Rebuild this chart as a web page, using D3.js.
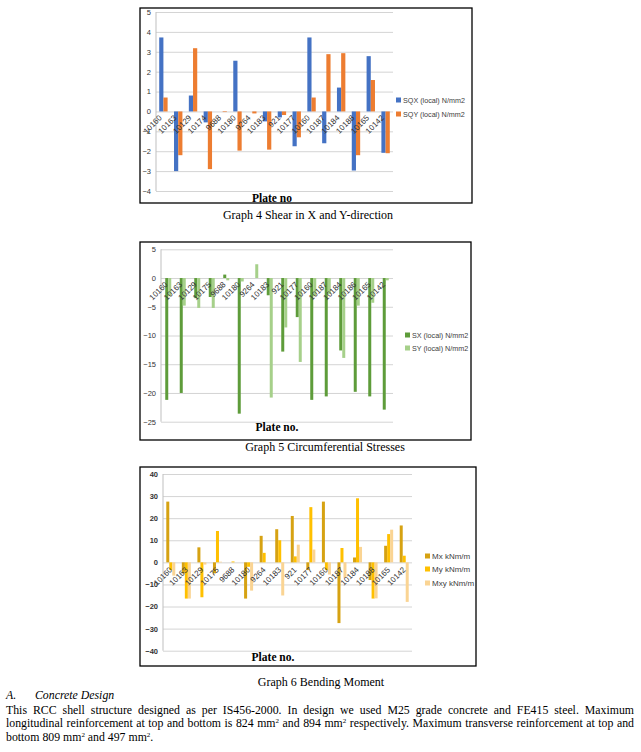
<!DOCTYPE html>
<html>
<head>
<meta charset="utf-8">
<script src="https://cdn.jsdelivr.net/npm/d3@7"></script>
<style>
  body { margin: 0; background: #fff; }
  #wrap { position: relative; width: 641px; height: 752px; overflow: hidden; }
  svg { position: absolute; left: 0; top: 0; }
  .para { position: absolute; left: 6px; width: 628px; font-family: "Liberation Serif", "Times New Roman", serif;
          font-size: 11.8px; line-height: 13px; white-space: nowrap; color: #000; }
  .just { text-align: justify; text-align-last: justify; white-space: normal; }
  sup { font-size: 7px; line-height: 0; vertical-align: 4px; }
</style>
</head>
<body>
<div id="wrap"></div>
<script>
// plate numbers along the x axis of each graph
var platesShear = ["10160", "10163", "10129", "10174", "9688", "10180", "9264", "10183", "921", "10177", "10160", "10187", "10184", "10188", "10165", "10142"];
var platesStress = ["10160", "10163", "10129", "10175", "9688", "10180", "9264", "10183", "921", "10177", "10160", "10187", "10184", "10186", "10165", "10142"];
var platesMoment = ["10160", "10163", "10129", "10175", "9688", "10180", "9264", "10183", "921", "10177", "10160", "10187", "10184", "10188", "10165", "10142"];

// graph 4 - shear
var sqx = [3.72, -3.0, 0.8, -0.55, 0, 2.55, 0, -0.5, -0.3, -1.75, 3.72, -1.6, 1.2, -2.97, 2.78, -2.08];
var sqy = [0.7, -2.2, 3.18, -2.9, -0.03, -1.97, -0.1, -1.92, -0.18, -1.3, 0.7, 2.88, 2.93, -2.2, 1.58, -2.1];

// graph 5 - circumferential stresses
var sx = [-21.2, -20, -3.5, -3.3, 0.6, -23.6, 0, -3, -12.8, -6.8, -21.2, -20.6, -12.6, -19.8, -20.6, -22.9];
var sy = [-3.1, -4.8, -5.2, -5.2, -0.4, -0.6, 2.4, -20.8, -8.6, -14.6, -3.1, -2.8, -13.9, -4.8, -4.3, -0.4];

// graph 6 - bending moment
var mx = [27.5, -5, 6.8, -5, 0, -16.4, 12, 15, 21, -3.5, 27.5, -27.5, 2.2, -8, 7.5, 16.7];
var my = [-3.5, -16.4, -15.8, 14.2, 0.4, -2, 4.3, 10, 2.7, 25, -3.5, 6.5, 29, -16.4, 12.8, 3];
var mxy = [-6, -16.4, -1, 0.3, 0, -12.8, 0, -15, 8, 5.8, -5.5, -7, 7, -16.3, 14.8, -17.9];

var ticksShear = d3.range(-4, 6, 1);
var ticksStress = d3.range(-25, 10, 5);
var ticksMoment = d3.range(-40, 50, 10);

var W = 641, H = 752;
var svg = d3.select("#wrap").append("svg").attr("width", W).attr("height", H);
svg.append("rect").attr("width", W).attr("height", H).attr("fill", "#fff");

var sans = "'Liberation Sans', Arial, sans-serif";
var serif = "'Liberation Serif', 'Times New Roman', serif";

function drawChart(cfg, idx) {
  var f = cfg.frame;
  var clipId = "clip" + idx;
  svg.append("clipPath").attr("id", clipId)
    .append("rect").attr("x", f[0]).attr("y", f[1]).attr("width", f[2] - f[0]).attr("height", f[3] - f[1]);

  var g = svg.append("g").attr("clip-path", "url(#" + clipId + ")");

  var x = d3.scaleBand().domain(d3.range(cfg.cats.length)).range([cfg.x0, cfg.x1]);
  var y = d3.scaleLinear().domain(cfg.domain).range(cfg.yRange);

  // gridlines + tick labels
  var yAxis = d3.axisLeft(y).tickValues(cfg.ticks).tickSize(-(cfg.x1 - cfg.x0)).tickPadding(5);
  var ax = g.append("g").attr("transform", "translate(" + cfg.x0 + ",0)").call(yAxis);
  ax.select(".domain").remove();
  ax.selectAll(".tick line").attr("stroke", "#d4d4d4").attr("stroke-width", 1);
  ax.selectAll(".tick text").attr("font-family", sans).attr("font-size", cfg.tickFont)
    .attr("font-weight", cfg.tickWeight || "normal").attr("fill", "#333");
  g.append("line").attr("x1", cfg.x0).attr("x2", cfg.x0)
    .attr("y1", y(cfg.domain[1])).attr("y2", y(cfg.domain[0])).attr("stroke", "#bfbfbf");

  // bars
  var n = cfg.series.length;
  var off = (x.bandwidth() - n * cfg.barW) / 2;
  cfg.series.forEach(function (s, si) {
    g.append("g").selectAll("rect").data(s.values).enter().append("rect")
      .attr("x", function (d, i) { return x(i) + off + si * cfg.barW; })
      .attr("width", cfg.barW)
      .attr("y", function (d) { return y(Math.max(0, d)); })
      .attr("height", function (d) { return Math.abs(y(d) - y(0)); })
      .attr("fill", s.color);
  });

  // category labels near zero line
  g.append("g").selectAll("text").data(cfg.cats).enter().append("text")
    .attr("transform", function (d, i) {
      return "translate(" + (x(i) + x.bandwidth() / 2 + cfg.labDx) + "," + (y(0) + cfg.labDy) + ") rotate(-45)";
    })
    .attr("text-anchor", "end").attr("dy", "0.35em")
    .attr("font-family", sans).attr("font-size", cfg.catFont).attr("fill", "#333")
    .text(function (d) { return d; });

  // legend
  cfg.series.forEach(function (s, si) {
    var ly = cfg.legendY[si];
    g.append("rect").attr("x", cfg.legendX).attr("y", ly - 2.5).attr("width", 5).attr("height", 5).attr("fill", s.color);
    g.append("text").attr("x", cfg.legendX + 7).attr("y", ly).attr("dy", "0.35em")
      .attr("font-family", sans).attr("font-size", cfg.legFont).attr("fill", "#404040").text(s.name);
  });

  // axis title
  g.append("text").attr("x", cfg.title[0]).attr("y", cfg.title[1]).attr("text-anchor", "middle")
    .attr("font-family", serif).attr("font-weight", "bold").attr("font-size", 11.5).text(cfg.titleText);

  // frame
  svg.append("rect").attr("x", f[0]).attr("y", f[1]).attr("width", f[2] - f[0]).attr("height", f[3] - f[1])
    .attr("fill", "none").attr("stroke", "#000").attr("stroke-width", 1.3);

  svg.append("text").attr("x", cfg.caption[0]).attr("y", cfg.caption[1]).attr("text-anchor", "middle")
    .attr("font-family", serif).attr("font-size", 12).text(cfg.captionText);
}

drawChart({
  frame: [140, 8, 472, 203],
  cats: platesShear, x0: 156, x1: 393,
  domain: [-4, 5], yRange: [191, 12], ticks: ticksShear,
  barW: 4.2, tickFont: 7.5, catFont: 8, legFont: 7.2,
  labDx: -3, labDy: 5,
  series: [
    { name: "SQX (local) N/mm2", color: "#4472C4", values: sqx },
    { name: "SQY (local) N/mm2", color: "#ED7D31", values: sqy }
  ],
  legendX: 396, legendY: [100, 114],
  title: [272, 202], titleText: "Plate no",
  caption: [308, 219], captionText: "Graph 4 Shear in X and Y-direction"
}, 1);

drawChart({
  frame: [140, 242, 471, 440],
  cats: platesStress, x0: 161, x1: 393,
  domain: [-25, 5], yRange: [421.7, 249.3], ticks: ticksStress,
  barW: 3, tickFont: 7.5, catFont: 8, legFont: 7.2,
  labDx: -2, labDy: 5,
  series: [
    { name: "SX (local) N/mm2", color: "#5E9C3A", values: sx },
    { name: "SY (local) N/mm2", color: "#A6D08A", values: sy }
  ],
  legendX: 405, legendY: [335, 348],
  title: [277, 431], titleText: "Plate no.",
  caption: [325, 451], captionText: "Graph 5 Circumferential Stresses"
}, 2);

drawChart({
  frame: [140, 467, 476, 666],
  cats: platesMoment, x0: 163, x1: 412,
  domain: [-40, 40], yRange: [650.7, 474], ticks: ticksMoment,
  barW: 3, tickFont: 7.5, tickWeight: "bold", catFont: 8, legFont: 8,
  labDx: 0, labDy: 6,
  series: [
    { name: "Mx kNm/m", color: "#D6A212", values: mx },
    { name: "My kNm/m", color: "#FFC000", values: my },
    { name: "Mxy kNm/m", color: "#FAD493", values: mxy }
  ],
  legendX: 425, legendY: [556, 569, 583],
  title: [273, 661], titleText: "Plate no.",
  caption: [321, 686], captionText: "Graph 6 Bending Moment"
}, 3);

// section text
var wrap = d3.select("#wrap");
wrap.append("div").attr("class", "para").style("top", "689px")
  .html('<i>A.</i><i style="position:absolute;left:29px">Concrete Design</i>');
wrap.append("div").attr("class", "para just").style("top", "704px")
  .html("This RCC shell structure designed as per IS456-2000. In design we used M25 grade concrete and FE415 steel. Maximum");
wrap.append("div").attr("class", "para just").style("top", "717px")
  .html("longitudinal reinforcement at top and bottom is 824 mm<sup>2</sup> and 894 mm<sup>2</sup> respectively. Maximum transverse reinforcement at top and");
wrap.append("div").attr("class", "para").style("top", "731px")
  .html("bottom 809 mm<sup>2</sup> and 497 mm<sup>2</sup>.");
</script>
</body>
</html>
